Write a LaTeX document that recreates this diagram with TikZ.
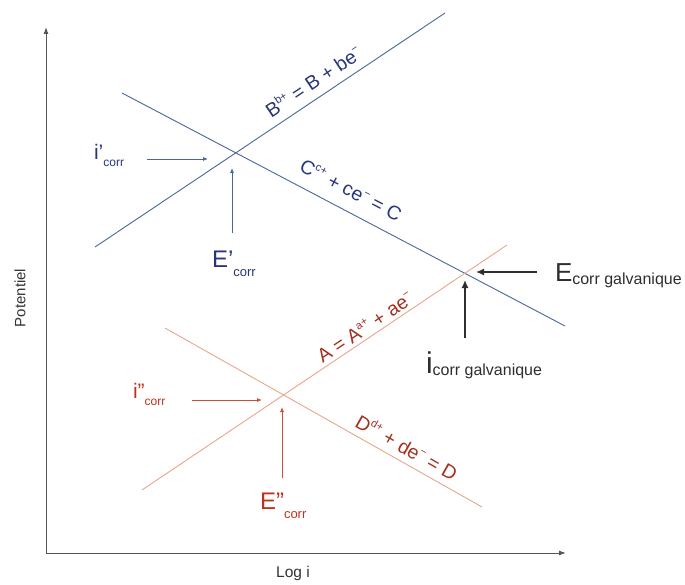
\documentclass[tikz,border=0pt]{standalone}
\usepackage{fontspec}
\setmainfont{Liberation Sans}
\usetikzlibrary{arrows.meta}
\definecolor{bline}{HTML}{4A6699}
\definecolor{btext}{HTML}{27357A}
\definecolor{oline}{HTML}{E8A68A}
\definecolor{otext}{HTML}{A3301E}
\definecolor{rtext}{HTML}{C0301E}
\definecolor{rarrow}{HTML}{C8503A}
\definecolor{axiscol}{HTML}{555555}
\definecolor{galcol}{HTML}{2E2E2E}
\newcommand{\mylarge}[2]{{\fontsize{#1}{#1}\selectfont #2}}
\newcommand{\mysub}[3]{\raisebox{-#2}{\fontsize{#1}{#1}\selectfont #3}}
\newcommand{\mysup}[1]{\raisebox{0.42em}{\fontsize{11}{11}\selectfont #1}}
\begin{document}
\begin{tikzpicture}[x=1pt,y=-1pt,
  bl/.style={draw=bline, line width=0.9pt},
  ol/.style={draw=oline, line width=0.9pt},
  axisline/.style={draw=axiscol, line width=1pt, -{Latex[length=7pt,width=5pt]}},
  barrow/.style={draw=bline, line width=0.8pt, -{Latex[length=5pt,width=4pt]}},
  rarr/.style={draw=rarrow, line width=0.8pt, -{Latex[length=5pt,width=4pt]}},
  garrow/.style={draw=galcol, line width=1.4pt, -{Latex[length=8pt,width=7pt]}},
  lbl/.style={inner sep=0pt, outer sep=0pt},
  rxb/.style={lbl, text=btext, font=\fontsize{19.5}{19.5}\selectfont},
  rxo/.style={lbl, text=otext, font=\fontsize{19.5}{19.5}\selectfont},
]
\useasboundingbox (0,0) rectangle (685,585);
% axes
\coordinate (O) at (46,553);
\coordinate (Ytip) at (46,27);
\coordinate (Xtip) at (566,553);
\draw[axisline] (O) -- (Ytip);
\draw[axisline] (O) -- (Xtip);
\node[lbl, rotate=90, text=black!80, font=\fontsize{15}{15}\selectfont] (pot) at (20,298) {Potentiel};
\node[lbl, text=black!80, font=\fontsize{15.5}{15.5}\selectfont] (logi) at (293,573) {Log i};
% blue lines
\coordinate (B1) at (95,247);
\coordinate (B2) at (445,13);
\coordinate (C1) at (122,93);
\coordinate (C2) at (565,326);
\draw[bl] (B1) -- (B2);
\draw[bl] (C1) -- (C2);
% orange lines
\coordinate (A1) at (142,490);
\coordinate (A2) at (507,245);
\coordinate (D1) at (165,328);
\coordinate (D2) at (482,507);
\draw[ol] (A1) -- (A2);
\draw[ol] (D1) -- (D2);
% reaction labels
\node[rxb, rotate=33.8] (rB) at (313,81) {B\mysup{b+} = B + be\mysup{−}};
\node[rxb, rotate=-27.7] (rC) at (351,190) {C\mysup{c+} + ce\mysup{−} = C};
\node[rxo, rotate=33.9] (rA) at (365,327) {A = A\mysup{a+} + ae\mysup{−}};
\node[rxo, rotate=-29.5] (rD) at (407,447) {D\mysup{d+} + de\mysup{−} = D};
% blue corrosion labels and arrows
\node[lbl, anchor=base west, text=btext] (ip) at (94,160) {\mylarge{21}{i’}\mysub{12}{7pt}{corr}};
\node[lbl, anchor=base west, text=btext] (Ep) at (212,268) {\mylarge{24}{E’}\mysub{13}{9pt}{corr}};
\coordinate (ipS) at (147,159);
\coordinate (ipE) at (208,159);
\coordinate (EpS) at (232,233);
\coordinate (EpE) at (232,168);
\draw[barrow] (ipS) -- (ipE);
\draw[barrow] (EpS) -- (EpE);
% orange corrosion labels and arrows
\node[lbl, anchor=base west, text=rtext] (ipp) at (133,398) {\mylarge{21}{i”}\mysub{12}{7pt}{corr}};
\node[lbl, anchor=base west, text=rtext] (Epp) at (260,509) {\mylarge{24}{E”}\mysub{13}{9pt}{corr}};
\coordinate (ippS) at (192,400);
\coordinate (ippE) at (262,400);
\coordinate (EppS) at (282,478);
\coordinate (EppE) at (282,407);
\draw[rarr] (ippS) -- (ippE);
\draw[rarr] (EppS) -- (EppE);
% galvanic labels and arrows
\node[lbl, anchor=base west, text=galcol] (Eg) at (555,282) {\mylarge{26}{E}\mysub{16}{2pt}{corr galvanique}};
\node[lbl, anchor=base west, text=galcol] (ig) at (426,373) {\mylarge{30}{i}\mysub{16}{2pt}{corr galvanique}};
\coordinate (EgS) at (537,272);
\coordinate (EgE) at (476,272);
\coordinate (igS) at (465,338);
\coordinate (igE) at (465,280);
\draw[garrow] (EgS) -- (EgE);
\draw[garrow] (igS) -- (igE);
\end{tikzpicture}
\end{document}
